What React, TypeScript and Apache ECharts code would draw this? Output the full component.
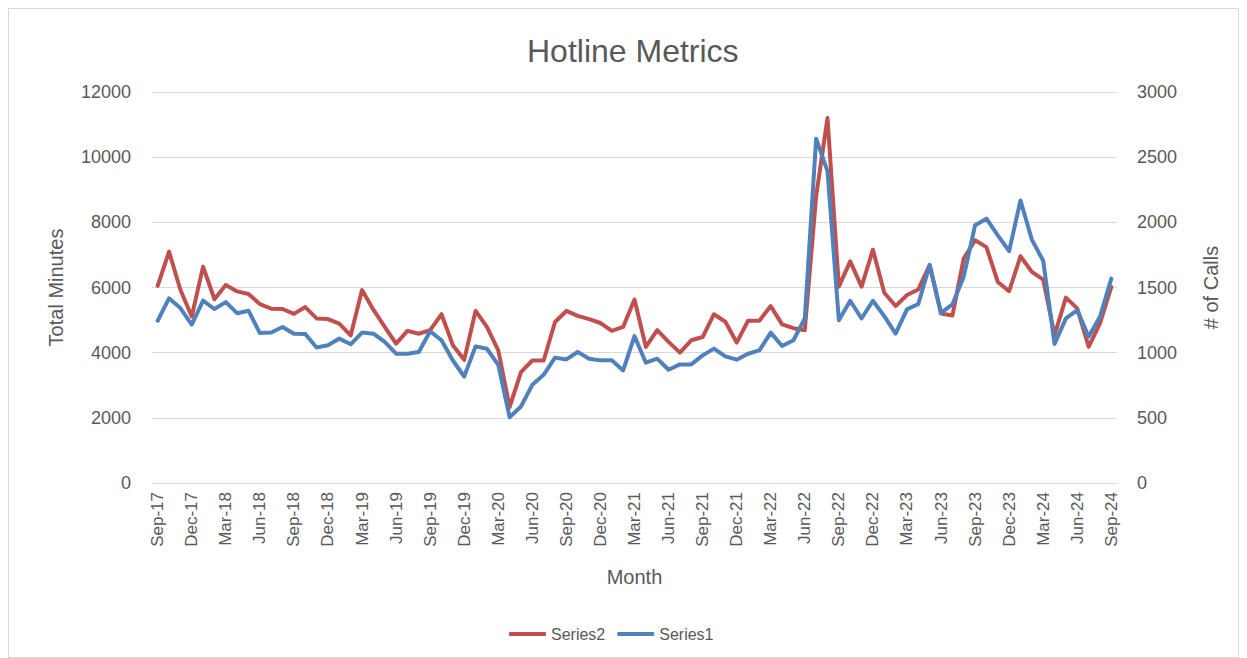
import React, { useEffect, useRef } from "react";
import * as echarts from "echarts";

const MONTH_NAMES = ["Jan", "Feb", "Mar", "Apr", "May", "Jun", "Jul", "Aug", "Sep", "Oct", "Nov", "Dec"];
// Sep-17 .. Sep-24 (85 months)
const categories: string[] = Array.from({ length: 85 }, (_, i) => {
  const m = (8 + i) % 12;
  const y = 17 + Math.floor((8 + i) / 12);
  return `${MONTH_NAMES[m]}-${y}`;
});

// Series2: Total Minutes (left axis)
const series2: number[] = [
  6050, 7100, 5930, 5110, 6640, 5640, 6080, 5880, 5800, 5490, 5350, 5340,
  5190, 5400, 5050, 5030, 4890, 4530, 5920, 5320, 4790, 4280, 4670, 4580,
  4690, 5180, 4230, 3780, 5280, 4790, 4070, 2330, 3400, 3760, 3760, 4940,
  5280, 5130, 5030, 4910, 4670, 4790, 5630, 4175, 4690, 4330, 4000, 4380,
  4480, 5180, 4950, 4310, 4980, 4980, 5430, 4870, 4750, 4690, 8800, 11200,
  6025, 6800, 6025, 7160, 5840, 5430, 5770, 5940, 6690, 5200, 5140, 6890,
  7450, 7240, 6170, 5890, 6960, 6480, 6240, 4540, 5690, 5360, 4180, 4900,
  6020,
];

// Series1: # of Calls (right axis)
const series1: number[] = [
  1245, 1417, 1342, 1215, 1400, 1335, 1388, 1303, 1322, 1150, 1155, 1197,
  1145, 1143, 1040, 1057, 1108, 1064, 1154, 1146, 1082, 992, 992, 1005,
  1164, 1095, 940, 817, 1048, 1030, 907, 505, 587, 753, 830, 962,
  948, 1005, 954, 941, 941, 864, 1127, 923, 954, 869, 910, 910,
  979, 1031, 972, 946, 992, 1018, 1154, 1051, 1095, 1262, 2642, 2393,
  1249, 1398, 1262, 1398, 1280, 1146, 1332, 1373, 1673, 1305, 1370, 1583,
  1978, 2028, 1900, 1780, 2168, 1867, 1705, 1066, 1263, 1327, 1122, 1275,
  1568,
];

const TEXT = "#595959";
const FONT = "Liberation Sans";
const GRID = "#d9d9d9";

export default function App() {
  const ref = useRef<HTMLDivElement>(null);
  useEffect(() => {
    if (!ref.current) return;
    const chart = echarts.init(ref.current, undefined, { renderer: "svg" });
    chart.setOption({
      animation: false,
      backgroundColor: "#ffffff",
      textStyle: { fontFamily: FONT, color: TEXT },
      title: {
        text: "Hotline Metrics",
        left: 513,
        top: 21,
        textStyle: { fontFamily: FONT, fontSize: 32, fontWeight: "normal", color: TEXT },
      },
      grid: { left: 143, right: 121, top: 83, bottom: 174 },
      legend: {
        data: ["Series2", "Series1"],
        bottom: 10,
        left: 495,
        itemWidth: 37,
        itemHeight: 4,
        itemGap: 12,
        icon: "roundRect",
        textStyle: { fontFamily: FONT, fontSize: 16, color: TEXT },
      },
      xAxis: {
        type: "category",
        data: categories,
        boundaryGap: true,
        name: "Month",
        nameLocation: "middle",
        nameGap: 84,
        nameTextStyle: { fontFamily: FONT, fontSize: 20, color: TEXT },
        axisLine: { lineStyle: { color: GRID, width: 1 } },
        axisTick: { interval: 2, length: 5, lineStyle: { color: GRID } },
        axisLabel: { interval: 2, rotate: 90, margin: 9, fontSize: 17, color: TEXT, fontFamily: FONT },
        splitLine: { show: false },
      },
      yAxis: [
        {
          type: "value",
          min: 0,
          max: 12000,
          interval: 2000,
          name: "Total Minutes",
          nameLocation: "middle",
          nameRotate: 90,
          nameGap: 86,
          nameTextStyle: { fontFamily: FONT, fontSize: 20, color: TEXT },
          axisLine: { show: false },
          axisTick: { show: false },
          axisLabel: {
            margin: 21,
            fontSize: 18,
            color: TEXT,
            fontFamily: FONT,
            formatter: (v: number) => String(v),
          },
          splitLine: { lineStyle: { color: GRID, width: 1 } },
        },
        {
          type: "value",
          min: 0,
          max: 3000,
          interval: 500,
          name: "# of Calls",
          nameLocation: "middle",
          nameRotate: 90,
          nameGap: 84,
          nameTextStyle: { fontFamily: FONT, fontSize: 20, color: TEXT },
          axisLine: { show: false },
          axisTick: { show: false },
          axisLabel: {
            margin: 20,
            fontSize: 18,
            color: TEXT,
            fontFamily: FONT,
            formatter: (v: number) => String(v),
          },
          splitLine: { show: false },
        },
      ],
      series: [
        {
          name: "Series2",
          type: "line",
          yAxisIndex: 0,
          data: series2,
          symbol: "none",
          color: "#C0504D",
          lineStyle: { color: "#C0504D", width: 4, cap: "round", join: "round" },
        },
        {
          name: "Series1",
          type: "line",
          yAxisIndex: 1,
          data: series1,
          symbol: "none",
          color: "#4F81BD",
          lineStyle: { color: "#4F81BD", width: 4, cap: "round", join: "round" },
        },
      ],
    });
    return () => chart.dispose();
  }, []);
  return (
    <div
      ref={ref}
      style={{ width: 1231, height: 650, border: "1px solid #d9d9d9", boxSizing: "border-box" }}
    />
  );
}
